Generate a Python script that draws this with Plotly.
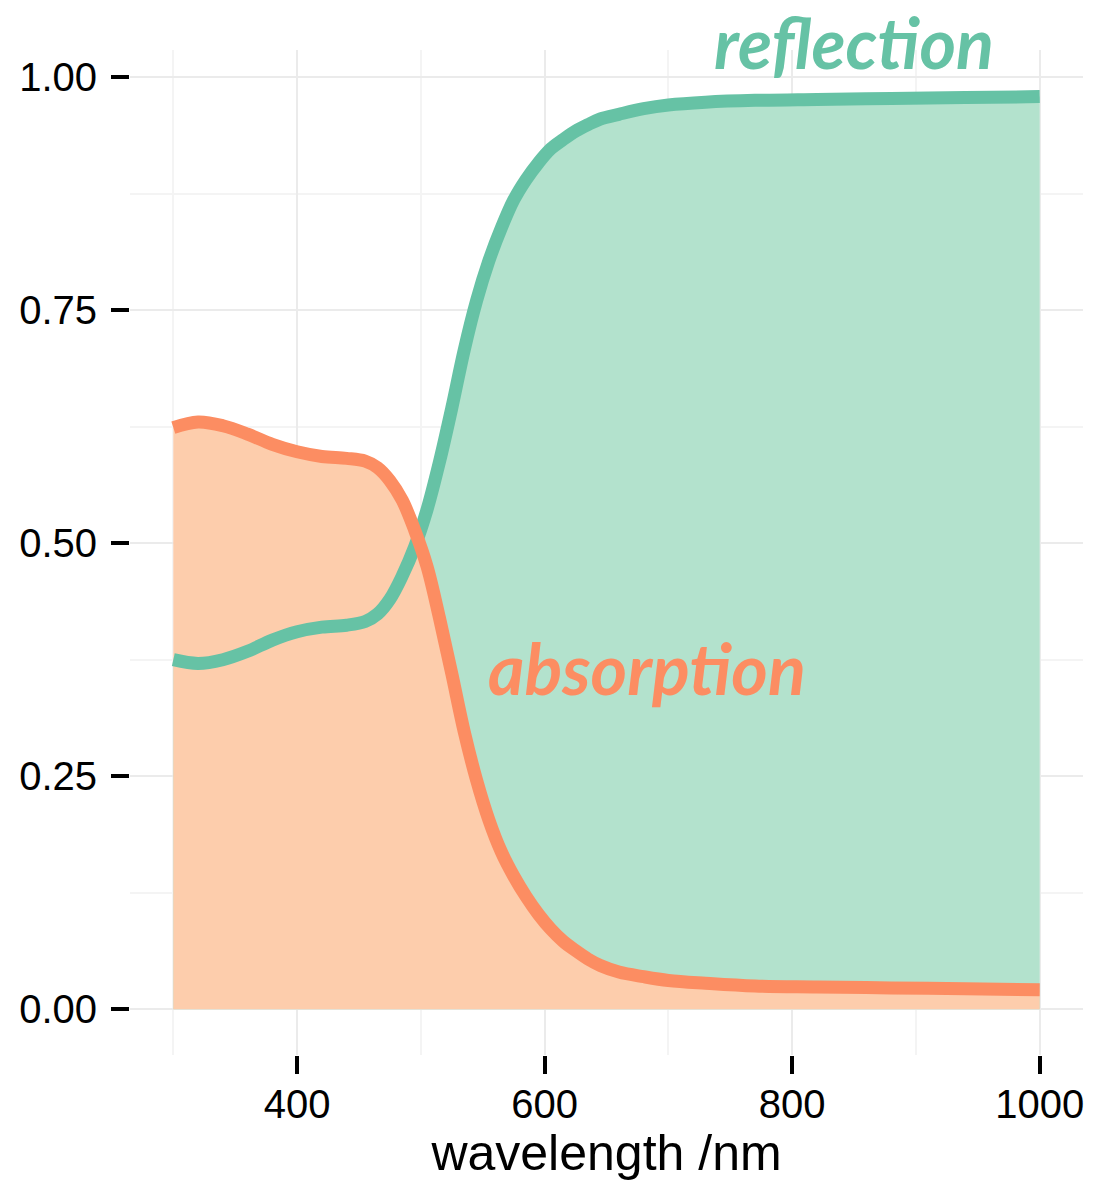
import plotly.graph_objects as go

# Spectral data: fraction of light absorbed and reflected by wavelength
wavelength_nm = [300, 320, 340, 360, 380, 400, 420, 440, 455, 465, 475, 485, 495,
                 505, 515, 525, 535, 545, 555, 565, 575, 585, 595, 605, 615, 625,
                 635, 645, 660, 680, 700, 730, 770, 820, 880, 940, 1000]
absorption = [0.624, 0.630, 0.626, 0.617, 0.606, 0.598, 0.593, 0.591, 0.588, 0.581,
              0.567, 0.546, 0.514, 0.475, 0.420, 0.360, 0.298, 0.246, 0.203, 0.169,
              0.143, 0.121, 0.102, 0.086, 0.073, 0.063, 0.054, 0.047, 0.040, 0.035,
              0.031, 0.028, 0.025, 0.024, 0.023, 0.022, 0.021]
reflection = [0.375, 0.371, 0.375, 0.384, 0.396, 0.405, 0.410, 0.412, 0.416, 0.424,
              0.440, 0.465, 0.496, 0.536, 0.587, 0.645, 0.707, 0.760, 0.803, 0.838,
              0.868, 0.890, 0.908, 0.923, 0.933, 0.942, 0.949, 0.955, 0.960, 0.966,
              0.970, 0.973, 0.975, 0.976, 0.977, 0.978, 0.979]

x_ticks = [400, 600, 800, 1000]
x_minor = [300, 500, 700, 900]
y_ticks = [0.0, 0.25, 0.5, 0.75, 1.0]
y_minor = [0.125, 0.375, 0.625, 0.875]

GREEN_LINE, GREEN_FILL = "#66c2a5", "#b3e2cd"
ORANGE_LINE, ORANGE_FILL = "#fc8d62", "#fdcdac"
LINE_W = 13
curve = dict(shape="spline", smoothing=1)

fig = go.Figure()

# filled areas first, then the outlines on top
fig.add_trace(go.Scatter(x=wavelength_nm, y=reflection, mode="lines",
                         line=dict(width=0, **curve),
                         fill="tozeroy", fillcolor=GREEN_FILL, hoverinfo="skip"))
fig.add_trace(go.Scatter(x=wavelength_nm, y=absorption, mode="lines",
                         line=dict(width=0, **curve),
                         fill="tozeroy", fillcolor=ORANGE_FILL, hoverinfo="skip"))
fig.add_trace(go.Scatter(x=wavelength_nm, y=reflection, mode="lines",
                         line=dict(width=LINE_W, color=GREEN_LINE, **curve)))
fig.add_trace(go.Scatter(x=wavelength_nm, y=absorption, mode="lines",
                         line=dict(width=LINE_W, color=ORANGE_LINE, **curve)))

label_font = dict(family="Lato", size=70, style="italic", weight="bold")
fig.add_annotation(x=736, y=1.008, xref="x", yref="paper", text="reflection",
                   showarrow=False, xanchor="left", yanchor="middle", borderpad=0,
                   font=dict(label_font, color=GREEN_LINE))
fig.add_annotation(x=552.5, y=0.366, xref="x", yref="y", text="absorption",
                   showarrow=False, xanchor="left", yanchor="middle",
                   font=dict(label_font, color=ORANGE_LINE))

tick_font = dict(family="Liberation Sans", size=40, color="black")

fig.update_layout(
    width=1094, height=1181,
    margin=dict(l=130, r=10, t=50, b=124),
    paper_bgcolor="white", plot_bgcolor="white",
    showlegend=False,
    xaxis=dict(
        range=[265, 1035], tickvals=x_ticks, ticks="outside", ticklen=18,
        tickwidth=4, tickcolor="black", tickfont=tick_font,
        ticklabelstandoff=-4,
        showgrid=True, gridcolor="#ebebeb", gridwidth=2, zeroline=False,
        showline=False,
        minor=dict(tickvals=x_minor, showgrid=True, gridcolor="#f4f4f4",
                   gridwidth=2, ticks=""),
        title=dict(text="wavelength /nm",
                   font=dict(family="Liberation Sans", size=50, color="black"),
                   standoff=10),
    ),
    yaxis=dict(
        range=[-0.049, 1.029], tickvals=y_ticks, tickformat=".2f",
        ticks="outside", ticklen=18, tickwidth=4, tickcolor="black",
        tickfont=tick_font, ticklabelstandoff=6,
        showgrid=True, gridcolor="#ebebeb", gridwidth=2, zeroline=False,
        showline=False,
        minor=dict(tickvals=y_minor, showgrid=True, gridcolor="#f4f4f4",
                   gridwidth=2, ticks=""),
    ),
)

fig.write_html("out.html")
